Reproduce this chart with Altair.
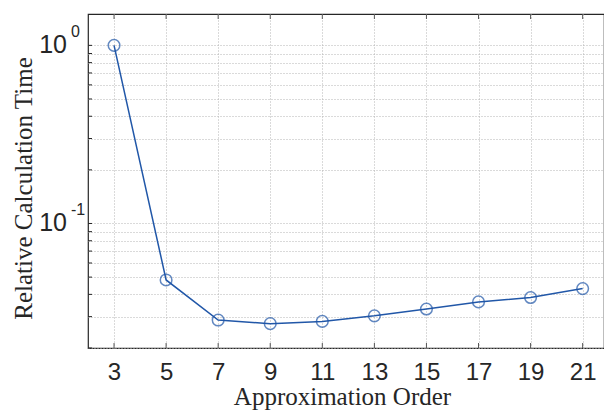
import altair as alt
import pandas as pd

# Relative calculation time versus approximation order
orders = [3, 5, 7, 9, 11, 13, 15, 17, 19, 21]
rel_time = [1.0, 0.0482, 0.0287, 0.0274, 0.0282, 0.0303, 0.0331, 0.0363, 0.0384, 0.0431]

# log-axis gridline / tick positions (major decades + minor steps)
y_grid = [0.02, 0.03, 0.04, 0.05, 0.06, 0.07, 0.08, 0.09,
          0.1, 0.2, 0.3, 0.4, 0.5, 0.6, 0.7, 0.8, 0.9, 1.0]
decades = [1.0, 0.1]
exponents = ["0", "-1"]

x_domain = [2, 21.82]
y_domain = [0.02, 1.5]

df = pd.DataFrame({"order": orders, "t": rel_time})
df_grid = pd.DataFrame({"v": y_grid})
df_dec = pd.DataFrame({"v": decades, "e": exponents})
df_xt = pd.DataFrame({"order": orders})

LINE = "#2157a8"
AX = "#262626"
SERIF = "Liberation Serif"
SANS = "Liberation Sans"

xs = alt.Scale(domain=x_domain, nice=False, zero=False)
ys = alt.Scale(type="log", domain=y_domain, nice=False)

x_axis = alt.Axis(
    values=orders, grid=True, gridColor="#b4b4b4", gridDash=[1, 2], gridWidth=1,
    ticks=False, domain=False, labelFont=SANS, labelFontSize=24, labelColor=AX,
    labelPadding=12, title="Approximation Order", titleFont=SERIF, titleFontSize=25,
    titleFontWeight="normal", titleColor=AX, titleX=254, titleY=56,
    titleBaseline="alphabetic", titleAlign="center",
)
y_axis = alt.Axis(
    values=y_grid, grid=True, gridColor="#b4b4b4", gridDash=[1, 2], gridWidth=1,
    ticks=False, domain=False, labels=False, title="Relative Calculation Time",
    titleFont=SERIF, titleFontSize=25, titleFontWeight="normal", titleColor=AX,
    titleAngle=270, titleX=-57, titleY=174, titleBaseline="alphabetic",
    titleAlign="center",
)

line = alt.Chart(df).mark_line(color=LINE, strokeWidth=1.5).encode(
    x=alt.X("order:Q", scale=xs, axis=x_axis),
    y=alt.Y("t:Q", scale=ys, axis=y_axis),
)
pts = alt.Chart(df).mark_point(
    shape="circle", filled=False, color=LINE, size=135, strokeWidth=1.5
).encode(x=alt.X("order:Q", scale=xs), y=alt.Y("t:Q", scale=ys))

# inward tick marks on the left, bottom and top edges
yticks = alt.Chart(df_grid).mark_rule(color=AX, strokeWidth=1).encode(
    y=alt.Y("v:Q", scale=ys), x=alt.value(0), x2=alt.value(4)
)
xticks_b = alt.Chart(df_xt).mark_rule(color="#555555", strokeWidth=1).encode(
    x=alt.X("order:Q", scale=xs), y=alt.value(334), y2=alt.value(329)
)
xticks_t = alt.Chart(df_xt).mark_rule(color="#555555", strokeWidth=1).encode(
    x=alt.X("order:Q", scale=xs), y=alt.value(0), y2=alt.value(5)
)

# decade labels 10^n
base_lbl = alt.Chart(df_dec).mark_text(
    text="10", font=SANS, fontSize=25, color=AX, align="right", baseline="middle"
).encode(y=alt.Y("v:Q", scale=ys), x=alt.value(-21))
exp_lbl = alt.Chart(df_dec).mark_text(
    font=SANS, fontSize=16, color=AX, align="left", baseline="middle", dy=-13
).encode(y=alt.Y("v:Q", scale=ys), x=alt.value(-17), text="e:N")

chart = alt.layer(line, pts, yticks, xticks_b, xticks_t, base_lbl, exp_lbl).properties(
    width=516, height=334,
    padding={"left": 88, "top": 14, "right": 0, "bottom": 65},
    autosize=alt.AutoSizeParams(type="none"),
    background="white",
).configure_view(stroke=AX, strokeWidth=1.2)

chart.save("out.html", embed_options={"renderer": "svg", "actions": False})
